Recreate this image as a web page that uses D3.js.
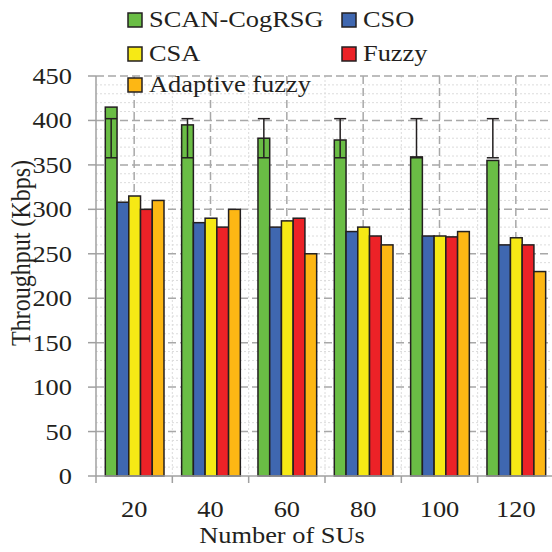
<!DOCTYPE html>
<html><head><meta charset="utf-8">
<script src="https://d3js.org/d3.v7.min.js"></script>
<style>body{margin:0;background:#fff}svg{display:block}</style>
</head><body><svg id="c" width="552" height="552"></svg>
<script>
const categories = ["20","40","60","80","100","120"];
const seriesNames = ["SCAN-CogRSG","CSO","CSA","Fuzzy","Adaptive fuzzy"];
const seriesColors = ["#6abd45","#3f67b0","#f6e915","#ec2227","#fdb714"];
const scanCogRSG = [415,395,380,378,359,355];
const cso = [308,285,280,275,270,260];
const csa = [315,290,287,280,270,268];
const fuzzy = [300,280,290,270,269,260];
const adaptiveFuzzy = [310,300,250,260,275,230];
const errLow = [358,358,358,358,358,358];
const errHigh = [402,402,402,402,402,402];
const yTicks = [0,50,100,150,200,250,300,350,400,450];
const series = [scanCogRSG,cso,csa,fuzzy,adaptiveFuzzy];

const svg = d3.select("#c");
const FONT = "'Liberation Serif','Times New Roman',serif";
const SX = 1.1;
const L = 96, R = 554, T = 76, B = 476;

const x0 = d3.scaleBand().domain(categories).range([L, R]).padding(0);
const x1 = d3.scaleBand().domain(d3.range(5)).range([9.3, 68]).padding(0);
const y = d3.scaleLinear().domain([0,450]).range([B, T]);

// minor gridlines
const minor = svg.append("g");
minor.selectAll("line.h").data(d3.range(10,450,10).filter(v=>v%50!==0)).join("line")
  .attr("x1",L).attr("x2",R).attr("y1",d=>y(d)).attr("y2",d=>y(d))
  .attr("stroke","#dcdcdc").attr("stroke-width",1).attr("stroke-dasharray","2,2");
minor.selectAll("line.v").data(categories.slice(1)).join("line")
  .attr("x1",d=>x0(d)).attr("x2",d=>x0(d)).attr("y1",T).attr("y2",B)
  .attr("stroke","#dcdcdc").attr("stroke-width",1).attr("stroke-dasharray","2,2");

// major gridlines
const major = svg.append("g");
major.selectAll("line.h").data(yTicks.slice(1)).join("line")
  .attr("x1",L).attr("x2",R).attr("y1",d=>y(d)).attr("y2",d=>y(d))
  .attr("stroke","#a8a8a8").attr("stroke-width",1.5).attr("stroke-dasharray","8,4");
major.selectAll("line.v").data(categories).join("line")
  .attr("x1",d=>x0(d)+x0.bandwidth()/2).attr("x2",d=>x0(d)+x0.bandwidth()/2).attr("y1",T).attr("y2",B)
  .attr("stroke","#a8a8a8").attr("stroke-width",1.5).attr("stroke-dasharray","8,4");

// bars
const gGroups = svg.append("g").selectAll("g").data(categories).join("g")
  .attr("transform",d=>`translate(${x0(d)},0)`);
gGroups.selectAll("rect").data((d,i)=>series.map((s,k)=>({k, v:s[i]}))).join("rect")
  .attr("x",d=>x1(d.k)).attr("width",x1.bandwidth())
  .attr("y",d=>y(d.v)).attr("height",d=>B-y(d.v))
  .attr("fill",d=>seriesColors[d.k]).attr("stroke","#231f20").attr("stroke-width",1.5);

// error bars on first series
const eb = svg.append("g").attr("stroke","#231f20").attr("stroke-width",1.5);
categories.forEach((c,i)=>{
  const cx = x0(c)+x1(0)+x1.bandwidth()/2;
  eb.append("line").attr("x1",cx).attr("x2",cx).attr("y1",y(errHigh[i])).attr("y2",y(errLow[i]));
  eb.append("line").attr("x1",cx-6).attr("x2",cx+6).attr("y1",y(errHigh[i])).attr("y2",y(errHigh[i]));
  eb.append("line").attr("x1",cx-6).attr("x2",cx+6).attr("y1",y(errLow[i])).attr("y2",y(errLow[i]));
});

// axes
const ax = svg.append("g").attr("stroke","#a0a0a0").attr("stroke-width",1.5);
ax.append("line").attr("x1",L).attr("x2",L).attr("y1",T).attr("y2",B);
ax.append("line").attr("x1",L).attr("x2",R).attr("y1",B).attr("y2",B);
ax.selectAll("line.yt").data(yTicks).join("line").attr("class","yt")
  .attr("x1",L-8).attr("x2",L).attr("y1",d=>y(d)).attr("y2",d=>y(d));
ax.selectAll("line.xt").data(categories.concat(["end"])).join("line").attr("class","xt")
  .attr("x1",(d,i)=>L+i*x0.bandwidth()).attr("x2",(d,i)=>L+i*x0.bandwidth()).attr("y1",B).attr("y2",B+7);

function txt(xp, yp, s, anchor, size){
  return svg.append("text").attr("transform",`translate(${xp},${yp}) scale(${SX},1)`)
    .attr("text-anchor",anchor||"start").attr("font-family",FONT).attr("font-size",size||24)
    .attr("fill","#231f20").text(s);
}
yTicks.forEach(v=>txt(72, y(v)+8, String(v), "end"));
categories.forEach(c=>txt(x0(c)+x0.bandwidth()/2, 517, c, "middle"));
txt(282, 543, "Number of SUs", "middle");
svg.append("text").attr("transform",`translate(30,253) scale(${SX},1) rotate(-90)`)
  .attr("text-anchor","middle").attr("font-family",FONT).attr("font-size",24)
  .attr("fill","#231f20").text("Throughput (Kbps)");

// legend
const legPos = [[128,27],[342,27],[128,61],[342,61],[128,92]];
seriesNames.forEach((n,k)=>{
  const [lx,ly] = legPos[k];
  svg.append("rect").attr("x",lx).attr("y",ly-14).attr("width",14).attr("height",14)
    .attr("fill",seriesColors[k]).attr("stroke","#231f20").attr("stroke-width",1.5);
  txt(lx+21, ly, n, "start");
});
</script></body></html>
